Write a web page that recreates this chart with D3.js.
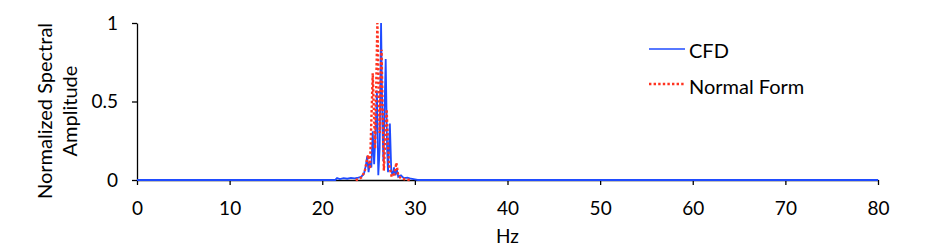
<!DOCTYPE html>
<html>
<head>
<meta charset="utf-8">
<script src="https://cdn.jsdelivr.net/npm/d3@7"></script>
<style>
  body { margin: 0; background: #fff; }
  text { font-family: Lato, "Open Sans", sans-serif; fill: #000; }
</style>
</head>
<body>
<script>
// spectra (Hz, normalized amplitude)
var cfdHz = [0, 21.4, 21.6, 21.9, 22.3, 22.7, 23.1, 23.5, 23.9, 24.2, 24.5, 24.7, 24.85, 25.0, 25.15, 25.3,
  25.45, 25.6, 25.75, 25.9, 26.05, 26.2, 26.35, 26.5, 26.6, 26.85, 27.0, 27.1, 27.3, 27.45, 27.6, 27.75,
  27.9, 28.05, 28.2, 28.5, 28.8, 29.2, 29.6, 30.0, 30.3, 80];
var cfdAmp = [0, 0, 0.012, 0.006, 0.012, 0.008, 0.013, 0.01, 0.015, 0.02, 0.04, 0.09, 0.15, 0.05, 0.12, 0.08,
  0.31, 0.1, 0.3, 0.57, 0.03, 0.2, 1.0, 0.35, 0.12, 0.77, 0.2, 0.05, 0.36, 0.06, 0.03, 0.08,
  0.03, 0.07, 0.02, 0.03, 0.012, 0.015, 0.008, 0.004, 0, 0];

var nfHz = [23.6, 24.0, 24.3, 24.6, 24.8, 24.95, 25.15, 25.45, 25.7, 25.95, 26.2, 26.4, 26.65, 26.95,
  27.2, 27.5, 27.8, 28.0, 28.2, 28.5, 29.0, 29.5];
var nfAmp = [0, 0.005, 0.02, 0.06, 0.12, 0.16, 0.07, 0.68, 0.2, 1.0, 0.3, 0.83, 0.06, 0.45,
  0.1, 0.02, 0.04, 0.11, 0.03, 0.01, 0.003, 0];

var xTicks = [0, 10, 20, 30, 40, 50, 60, 70, 80];
var yTicks = [0, 0.5, 1];

var width = 941, height = 250;
var svg = d3.select("body").append("svg")
    .attr("width", width)
    .attr("height", height);

var x = d3.scaleLinear().domain([0, 80]).range([137, 878]);
var y = d3.scaleLinear().domain([0, 1]).range([180, 23]);

// axes
svg.append("g")
    .attr("transform", "translate(0," + y(0) + ")")
    .call(d3.axisBottom(x).tickValues(xTicks).tickSize(5).tickPadding(17).tickSizeOuter(0))
    .call(function(g) {
      g.select(".domain").attr("stroke", "#000").attr("stroke-width", 1.3);
      g.selectAll(".tick line").attr("stroke", "#000").attr("stroke-width", 1.3);
      g.selectAll("text").style("font-size", "19px").attr("font-family", null);
    });

svg.append("g")
    .attr("transform", "translate(" + x(0) + ",0)")
    .call(d3.axisLeft(y).tickValues(yTicks).tickFormat(d3.format("")).tickSize(5).tickPadding(14).tickSizeOuter(0))
    .call(function(g) {
      g.select(".domain").attr("stroke", "#000").attr("stroke-width", 1.3);
      g.selectAll(".tick line").attr("stroke", "#000").attr("stroke-width", 1.3);
      g.selectAll("text").style("font-size", "19px").attr("font-family", null);
    });

// axis titles
svg.append("text")
    .attr("x", (x(0) + x(80)) / 2)
    .attr("y", 243)
    .attr("text-anchor", "middle")
    .style("font-size", "19px")
    .text("Hz");

var yt = svg.append("text")
    .attr("transform", "translate(0,111)rotate(-90)")
    .attr("text-anchor", "middle")
    .style("font-size", "20px");
yt.append("tspan").attr("x", 0).attr("y", 52).text("Normalized Spectral");
yt.append("tspan").attr("x", 0).attr("y", 77).text("Amplitude");

// lines
var line = d3.line()
    .x(function(d) { return x(d[0]); })
    .y(function(d) { return y(d[1]); });

var cfd = cfdHz.map(function(h, i) { return [h, cfdAmp[i]]; });
var nf = nfHz.map(function(h, i) { return [h, nfAmp[i]]; });

svg.append("path")
    .datum(cfd)
    .attr("fill", "none")
    .attr("stroke", "#1f4bff")
    .attr("stroke-width", 1.8)
    .attr("d", line);

svg.append("path")
    .datum(nf)
    .attr("fill", "none")
    .attr("stroke", "#ff3320")
    .attr("stroke-width", 2.4)
    .attr("stroke-dasharray", "2.4,2.2")
    .attr("d", line);

// legend
var legend = svg.append("g");
legend.append("line")
    .attr("x1", 649).attr("x2", 685).attr("y1", 49).attr("y2", 49)
    .attr("stroke", "#1f4bff").attr("stroke-width", 1.6);
legend.append("text")
    .attr("x", 689).attr("y", 57.5)
    .style("font-size", "20px")
    .text("CFD");
legend.append("line")
    .attr("x1", 649).attr("x2", 685).attr("y1", 84).attr("y2", 84)
    .attr("stroke", "#ff3320").attr("stroke-width", 2.4)
    .attr("stroke-dasharray", "2.4,2.2");
legend.append("text")
    .attr("x", 689).attr("y", 94)
    .style("font-size", "20px")
    .text("Normal Form");
</script>
</body>
</html>
